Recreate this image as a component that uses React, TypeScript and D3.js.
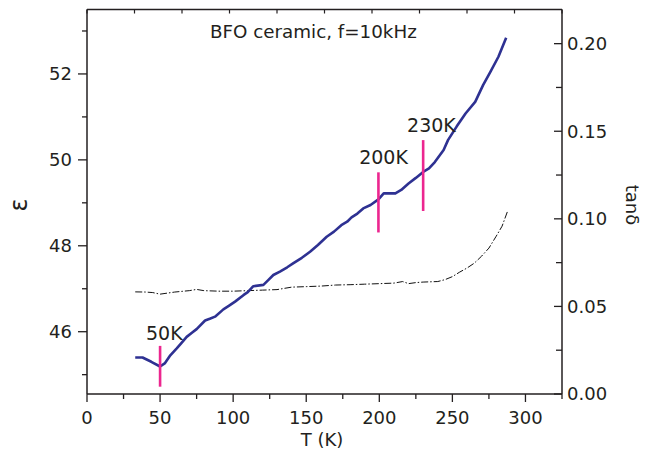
import * as d3 from "d3";
import React from "react";

// permittivity (blue) vs temperature
const epsT = [33, 38, 44, 50, 53.4, 57, 61.4, 65, 68.2, 72, 75, 80.8, 84, 87.6, 93.3, 97, 101.3, 107, 110, 113.8, 120.7, 124, 127.5, 132, 137, 141, 147, 152.6, 158, 164, 169, 174, 178, 181, 185, 189, 194, 199.4, 203, 211, 215, 220, 225, 230, 234, 238, 244, 247, 253, 259, 265.6, 271, 276, 281.5, 286.8];
const epsV = [45.4, 45.4, 45.3, 45.19, 45.27, 45.45, 45.61, 45.75, 45.88, 45.98, 46.06, 46.26, 46.3, 46.35, 46.52, 46.6, 46.7, 46.85, 46.92, 47.06, 47.09, 47.2, 47.32, 47.4, 47.5, 47.59, 47.72, 47.86, 48.02, 48.21, 48.33, 48.48, 48.56, 48.66, 48.75, 48.87, 48.95, 49.08, 49.22, 49.22, 49.3, 49.45, 49.58, 49.72, 49.8, 49.95, 50.23, 50.46, 50.78, 51.08, 51.35, 51.74, 52.05, 52.4, 52.84];

// loss tangent (black dash-dot)
const tanT = [33, 40, 45, 50, 55, 60, 70, 75, 80, 90, 100, 110, 120, 130, 140, 150, 160, 170, 180, 190, 200, 210, 216, 220, 225, 230, 240, 245, 250, 255, 260, 265, 270, 275, 280, 284, 288];
const tanV = [0.0583, 0.0582, 0.0579, 0.057, 0.0576, 0.0582, 0.059, 0.0597, 0.059, 0.0587, 0.0587, 0.059, 0.0593, 0.0596, 0.061, 0.0613, 0.0616, 0.0622, 0.0624, 0.0627, 0.063, 0.0633, 0.0642, 0.063, 0.0636, 0.0639, 0.0642, 0.0653, 0.067, 0.0696, 0.0719, 0.0747, 0.0787, 0.0833, 0.0901, 0.0958, 0.1049];

// transition markers
const markLabels = ["50K", "200K", "230K"];
const markT = [50, 199.4, 230];
const markLo = [44.72, 48.31, 48.81];
const markHi = [45.67, 49.71, 50.46];
const markTextT = [40.4, 186.2, 219];
const markTextV = [45.81, 49.9, 50.65];

const xMajor = [0, 50, 100, 150, 200, 250, 300];
const xMinor = [25, 75, 125, 175, 225, 275, 325];
const epsMajor = [46, 48, 50, 52];
const epsMinor = [45, 47, 49, 51, 53];
const tanMajor = [0, 0.05, 0.1, 0.15, 0.2];
const tanMinor = [0.025, 0.075, 0.125, 0.175];

const title = "BFO ceramic, f=10kHz";

const W = 647;
const H = 459;
const left = 87;
const right = 562;
const top = 9.5;
const bottom = 394;
const ink = "#231f20";
const font = "'DejaVu Sans', sans-serif";

export default function App() {
  const x = d3.scaleLinear().domain([0, 325]).range([left, right]);
  const yE = d3.scaleLinear().domain([44.55, 53.5]).range([bottom, top]);
  const yT = d3.scaleLinear().domain([0, 0.2195]).range([bottom, top]);

  const epsLine = d3
    .line<number>()
    .x((d, i) => x(epsT[i]))
    .y((d) => yE(d));
  const tanLine = d3
    .line<number>()
    .x((d, i) => x(tanT[i]))
    .y((d) => yT(d));

  const topTicks = d3.range(0, 11).map((i) => (i * 325) / 10);

  return (
    <svg
      width={W}
      height={H}
      style={{ position: "absolute", left: 0, top: 0, background: "#fff" }}
      fontFamily={font}
    >
      {/* frame */}
      <line x1={left} x2={right} y1={top} y2={top} stroke={ink} strokeWidth={1.3} />
      <line x1={left} x2={right} y1={bottom} y2={bottom} stroke={ink} strokeWidth={1.5} />
      <line x1={left} x2={left} y1={top} y2={bottom} stroke={ink} strokeWidth={1.5} />
      <line x1={right} x2={right} y1={top} y2={bottom} stroke={ink} strokeWidth={1.5} />

      {/* top ticks */}
      {topTicks.map((t) => (
        <line key={"tt" + t} x1={x(t)} x2={x(t)} y1={top} y2={top + 4} stroke={ink} strokeWidth={1.2} />
      ))}

      {/* bottom axis */}
      {xMajor.map((t) => (
        <g key={"xm" + t}>
          <line x1={x(t)} x2={x(t)} y1={bottom} y2={bottom + 8} stroke={ink} strokeWidth={1.3} />
          <text x={x(t)} y={424} textAnchor="middle" fontSize={18} fill={ink}>
            {t}
          </text>
        </g>
      ))}
      {xMinor.map((t) => (
        <line key={"xn" + t} x1={x(t)} x2={x(t)} y1={bottom} y2={bottom + 5} stroke={ink} strokeWidth={1.3} />
      ))}
      <text x={322} y={446} textAnchor="middle" fontSize={18} fill={ink}>
        T (K)
      </text>

      {/* left axis */}
      {epsMajor.map((t) => (
        <g key={"em" + t}>
          <line x1={left - 9} x2={left} y1={yE(t)} y2={yE(t)} stroke={ink} strokeWidth={1.3} />
          <text x={left - 15} y={yE(t)} dy="0.36em" textAnchor="end" fontSize={18} fill={ink}>
            {t}
          </text>
        </g>
      ))}
      {epsMinor.map((t) => (
        <line key={"en" + t} x1={left - 5} x2={left} y1={yE(t)} y2={yE(t)} stroke={ink} strokeWidth={1.3} />
      ))}
      <text
        transform="translate(19,205) rotate(-90)"
        textAnchor="middle"
        dy="0.35em"
        fontSize={24}
        fill={ink}
      >
        ε
      </text>

      {/* right axis */}
      {tanMajor.map((t) => (
        <g key={"tm" + t}>
          <line x1={right - 8} x2={right} y1={yT(t)} y2={yT(t)} stroke={ink} strokeWidth={1.3} />
          <text x={right + 5} y={yT(t)} dy="0.36em" textAnchor="start" fontSize={18} fill={ink}>
            {t.toFixed(2)}
          </text>
        </g>
      ))}
      {tanMinor.map((t) => (
        <line key={"tn" + t} x1={right - 6} x2={right} y1={yT(t)} y2={yT(t)} stroke={ink} strokeWidth={1.3} />
      ))}
      <text
        transform="translate(632,205) rotate(90)"
        textAnchor="middle"
        dy="0.35em"
        fontSize={18}
        fill={ink}
      >
        tanδ
      </text>

      {/* title */}
      <text x={210} y={38} fontSize={18.3} fill={ink}>
        {title}
      </text>

      {/* tan delta */}
      <path
        d={tanLine(tanV) || ""}
        fill="none"
        stroke="#111"
        strokeWidth={1}
        strokeDasharray="7 2 1.5 2"
      />

      {/* epsilon */}
      <path d={epsLine(epsV) || ""} fill="none" stroke="#2e3192" strokeWidth={2.6} strokeLinejoin="round" />

      {/* markers */}
      {markLabels.map((m, i) => (
        <g key={m}>
          <line
            x1={x(markT[i])}
            x2={x(markT[i])}
            y1={yE(markLo[i])}
            y2={yE(markHi[i])}
            stroke="#ec268f"
            strokeWidth={2.6}
          />
          <text x={x(markTextT[i])} y={yE(markTextV[i])} fontSize={19} fill={ink}>
            {m}
          </text>
        </g>
      ))}
    </svg>
  );
}
